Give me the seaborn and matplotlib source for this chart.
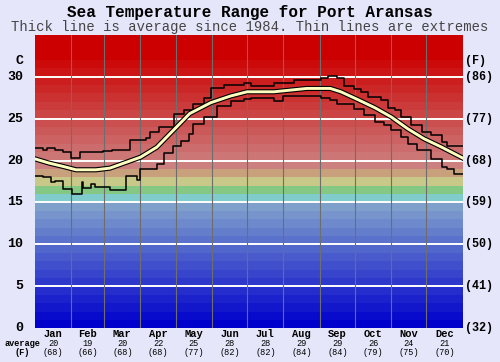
import matplotlib
matplotlib.use("Agg")
import matplotlib.pyplot as plt
import seaborn as sns
import pandas as pd

# ---------------- data ----------------
months = ["Jan", "Feb", "Mar", "Apr", "May", "Jun", "Jul", "Aug", "Sep", "Oct", "Nov", "Dec"]
month_start = [0, 31, 59, 90, 120, 151, 181, 212, 243, 273, 304, 334]
month_len = [31, 28, 31, 30, 31, 30, 31, 31, 30, 31, 30, 31]
avg_c_labels = ["20", "19", "20", "22", "25", "28", "28", "29", "29", "26", "24", "21"]
avg_f_labels = ["(68)", "(66)", "(68)", "(68)", "(77)", "(82)", "(82)", "(84)", "(84)", "(79)", "(75)", "(70)"]

avg_days = [0, 12, 24, 35, 52, 64, 78, 90, 104, 118, 132, 150, 167, 181, 204, 232, 252, 261,
            275, 290, 304, 318, 332, 347, 365]
avg_vals = [20.2, 19.7, 19.3, 18.9, 18.9, 19.1, 19.8, 20.4, 21.6, 23.6, 25.6, 26.9, 27.7, 28.2,
            28.2, 28.6, 28.6, 28.2, 27.3, 26.3, 25.2, 23.8, 22.6, 21.6, 20.3]

up_days = [0, 7, 10, 17, 24, 31, 38, 58, 66, 81, 95, 98, 106, 119, 127, 135, 144, 150, 161, 178,
           184, 204, 221, 244, 250, 258, 264, 272, 278, 284, 295, 301, 307, 312, 321, 330, 338,
           347, 352, 365]
up_vals = [21.5, 21.3, 21.5, 21.3, 21.0, 20.3, 21.0, 21.1, 21.3, 22.4, 22.7, 23.4, 24.0, 25.6,
           26.0, 26.7, 27.5, 28.7, 29.0, 29.2, 28.9, 29.3, 29.6, 29.8, 30.1, 29.9, 28.9, 28.5,
           28.2, 27.6, 27.2, 26.3, 26.0, 25.2, 24.2, 23.4, 23.0, 22.2, 21.7, 21.7]

lo_days = [0, 7, 14, 17, 24, 32, 40, 41, 48, 51, 64, 78, 87, 90, 104, 110, 118, 125, 131, 135,
           144, 155, 167, 178, 184, 204, 212, 244, 252, 258, 272, 281, 290, 298, 304, 312, 318,
           326, 338, 347, 352, 358, 365]
lo_vals = [18.1, 18.0, 17.4, 17.6, 16.6, 16.0, 17.5, 16.7, 17.2, 16.8, 16.5, 18.2, 17.7, 19.0,
           19.6, 20.9, 21.7, 22.3, 23.2, 24.4, 25.2, 26.5, 27.1, 27.3, 27.4, 27.1, 27.7, 27.5,
           27.2, 26.7, 26.2, 25.4, 24.6, 24.2, 23.6, 22.8, 22.0, 21.2, 20.2, 19.2, 19.0, 18.4, 18.4]

c_ticks = [0, 5, 10, 15, 20, 25, 30]
f_ticks = ["(32)", "(41)", "(50)", "(59)", "(68)", "(77)", "(86)"]

# ---------------- style ----------------
BG = "#E6E6FA"
MONO = ["Liberation Mono", "DejaVu Sans Mono"]
W, H = 500, 362
YMAX = 35


def band_color(t):
    if t >= 19:
        f = min((t - 19) / 13.0, 1.0)
        v = 128 * (1 - f) / 255
        return (204 / 255, v, v)
    special = {18: "#C8A07C", 17: "#C8C888", 16: "#84C884", 15: "#80CCCC"}
    if t in special:
        return special[t]
    f = t / 14.0
    return (128 * f / 255, 160 * f / 255, 204 / 255)


fig = plt.figure(figsize=(W / 100, H / 100), dpi=100, facecolor=BG)
left, right, bottom = 35, 462.7, 328.3
top = bottom - YMAX * 8.387
ax = fig.add_axes([left / W, 1 - bottom / H, (right - left) / W, (bottom - top) / H])
for s in ax.spines.values():
    s.set_visible(False)

for t in range(YMAX):
    ax.axhspan(t, t + 1, color=band_color(t), lw=0, zorder=0)
for t in c_ticks[1:]:
    ax.axhline(t, color="white", lw=1.4, zorder=1)
for d in month_start[1:]:
    ax.axvline(d, color="#6E6E6E", lw=0.8, zorder=1)

up_df = pd.DataFrame({"day": up_days, "temp": up_vals})
lo_df = pd.DataFrame({"day": lo_days, "temp": lo_vals})
avg_df = pd.DataFrame({"day": avg_days, "temp": avg_vals})

sns.lineplot(data=up_df, x="day", y="temp", ax=ax, color="black", lw=1.1,
             drawstyle="steps-post", zorder=3)
sns.lineplot(data=lo_df, x="day", y="temp", ax=ax, color="black", lw=1.1,
             drawstyle="steps-post", zorder=3)
sns.lineplot(data=avg_df, x="day", y="temp", ax=ax, color="black", lw=3.7, zorder=4)
sns.lineplot(data=avg_df, x="day", y="temp", ax=ax, color="#FFFFC0", lw=2.1, zorder=5)
ax.set_xlabel("")
ax.set_ylabel("")
ax.set_xticks([])
ax.set_yticks([])
ax.set_xlim(0, 365)
ax.set_ylim(0, YMAX)


def fy(y):
    return 1 - y / H


fig.text(0.5, fy(13), "Sea Temperature Range for Port Aransas", ha="center", va="center",
         fontsize=11.5, fontweight="bold", family=MONO, color="black")
fig.text(0.5, fy(27.5), "Thick line is average since 1984. Thin lines are extremes",
         ha="center", va="center", fontsize=10, family=MONO, color="#444444")

fig.text(23 / W, fy(61), "C", ha="right", va="center", fontsize=9.5, fontweight="bold",
         family=MONO)
fig.text(465 / W, fy(61), "(F)", ha="left", va="center", fontsize=8.5, fontweight="bold",
         family=MONO)
for c, f in zip(c_ticks, f_ticks):
    ax.text(-12 / 427 * 365, c, str(c), ha="right", va="center", fontsize=9.5,
            fontweight="bold", family=MONO, clip_on=False)
    ax.text(365 + 2.3 / 427 * 365, c, f, ha="left", va="center", fontsize=8.5,
            fontweight="bold", family=MONO, clip_on=False)

trans = ax.get_xaxis_transform()
pos = ax.get_position()


def ay(ypix):
    return (fy(ypix) - pos.y0) / pos.height


for m, s, n, ac, af in zip(months, month_start, month_len, avg_c_labels, avg_f_labels):
    mid = s + n / 2
    ax.text(mid, ay(334), m, transform=trans, ha="center", va="center", fontsize=7.5,
            fontweight="bold", family=MONO)
    ax.text(mid, ay(343.5), ac, transform=trans, ha="center", va="center", fontsize=6.2,
            family=MONO)
    ax.text(mid, ay(352.5), af, transform=trans, ha="center", va="center", fontsize=6.2,
            family=MONO)

fig.text(22 / W, fy(343.5), "average", ha="center", va="center", fontsize=6.2,
         fontweight="bold", family=MONO)
fig.text(22 / W, fy(352.5), "(F)", ha="center", va="center", fontsize=6.2,
         fontweight="bold", family=MONO)

fig.savefig("out.png", dpi=100, facecolor=BG)
